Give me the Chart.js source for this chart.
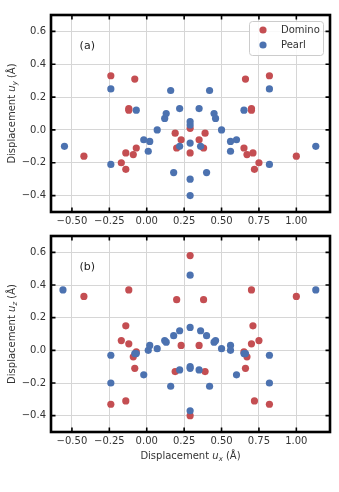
<!DOCTYPE html>
<html>
<head>
<meta charset="utf-8">
<script src="https://cdn.jsdelivr.net/npm/chart.js@4"></script>
<style>
  html, body { margin: 0; padding: 0; background: #fff; }
  #wrap { position: relative; width: 339px; height: 492px; }
  .panel { position: absolute; left: 0; width: 339px; }
</style>
</head>
<body>
<div id="wrap">
  <div class="panel" style="top:0;height:240px"><canvas id="chartA"></canvas></div>
  <div class="panel" style="top:225px;height:267px"><canvas id="chartB"></canvas></div>
</div>
<script>
// panel (a): u_x vs u_y
const dominoAX = [-0.42,-0.24,-0.08,-0.12,-0.12,-0.17,-0.14,-0.14,-0.09,-0.07,0.19,0.23,0.20,0.29,0.29,0.35,0.39,0.38,0.65,0.67,0.71,0.75,0.72,0.66,0.70,0.70,0.82,1.00];
const dominoAY = [-0.16,0.33,0.31,0.13,0.12,-0.20,-0.14,-0.24,-0.15,-0.11,-0.02,-0.06,-0.11,0.01,-0.14,-0.06,-0.02,-0.11,-0.11,-0.15,-0.14,-0.20,-0.24,0.31,0.13,0.12,0.33,-0.16];
const pearlAX = [-0.55,-0.24,-0.24,-0.07,-0.02,0.02,0.01,0.07,0.12,0.13,0.16,0.18,0.22,0.22,0.29,0.29,0.29,0.29,0.29,0.35,0.36,0.40,0.42,0.45,0.46,0.50,0.56,0.56,0.60,0.65,0.82,0.82,1.13];
const pearlAY = [-0.10,0.25,-0.21,0.12,-0.06,-0.07,-0.13,0.00,0.07,0.10,0.24,-0.26,0.13,-0.10,0.05,0.03,-0.08,-0.30,-0.40,0.13,-0.10,-0.26,0.24,0.10,0.07,0.00,-0.07,-0.13,-0.06,0.12,0.25,-0.21,-0.10];

// panel (b): u_x vs u_z
const dominoBX = [-0.42,-0.12,-0.24,-0.14,-0.14,-0.17,-0.12,-0.07,-0.09,-0.08,0.20,0.23,0.19,0.29,0.29,0.35,0.38,0.39,0.65,0.67,0.66,0.70,0.70,0.71,0.75,0.72,0.82,1.00];
const dominoBZ = [0.33,0.37,-0.33,-0.31,0.15,0.06,0.04,-0.01,-0.04,-0.11,0.31,0.03,-0.13,0.58,-0.40,0.03,0.31,-0.13,-0.01,-0.04,-0.11,0.04,0.37,0.15,0.06,-0.31,-0.33,0.33];
const pearlBX = [-0.56,-0.24,-0.24,-0.08,-0.07,-0.02,0.01,0.02,0.07,0.12,0.13,0.16,0.18,0.22,0.22,0.29,0.29,0.29,0.29,0.29,0.36,0.35,0.40,0.42,0.45,0.46,0.50,0.56,0.56,0.60,0.65,0.66,0.82,0.82,1.13];
const pearlBZ = [0.37,-0.03,-0.20,-0.02,-0.02,-0.15,0.00,0.03,0.01,0.06,0.05,-0.22,0.09,0.12,-0.12,0.46,0.14,-0.10,-0.11,-0.37,0.12,-0.12,0.09,-0.22,0.05,0.06,0.01,0.03,0.00,-0.15,-0.02,-0.02,-0.03,-0.20,0.37];

const xTicks = [-0.5, -0.25, 0, 0.25, 0.5, 0.75, 1.0];
const yTicks = [-0.4, -0.2, 0, 0.2, 0.4, 0.6];

const RED = '#c44e52', BLUE = '#4c72b0';
const FONT = 'DejaVu Sans';
const TXT = '#333';

function pts(xs, ys) { return xs.map((x, i) => ({x: x, y: ys[i]})); }
function fmt(v, d) { return v.toFixed(d).replace('-', '\u2212'); }

function drawRich(ctx, parts, x, y, rotate) {
  let w = 0;
  parts.forEach(p => { ctx.font = p.font; p.w = ctx.measureText(p.t).width; w += p.w; });
  ctx.save();
  ctx.translate(x, y);
  if (rotate) ctx.rotate(-Math.PI / 2);
  ctx.textBaseline = 'middle';
  ctx.textAlign = 'left';
  ctx.fillStyle = TXT;
  let cx = -w / 2;
  parts.forEach(p => { ctx.font = p.font; ctx.fillText(p.t, cx, p.dy || 0); cx += p.w; });
  ctx.restore();
}

function axisLabel(sub) {
  return [
    {t: 'Displacement ', font: '10px ' + FONT},
    {t: 'u', font: 'italic 10px ' + FONT},
    {t: sub, font: 'italic 7px ' + FONT, dy: 3},
    {t: ' (\u00c5)', font: '10px ' + FONT}
  ];
}

const decor = {
  id: 'decor',
  afterDraw(chart, args, opts) {
    const ctx = chart.ctx, a = chart.chartArea;
    const xs = chart.scales.x, ys = chart.scales.y;
    ctx.save();
    // inward ticks on all four sides
    ctx.strokeStyle = '#000';
    ctx.lineWidth = 1.6;
    ctx.beginPath();
    xs.ticks.forEach(t => {
      const p = xs.getPixelForValue(t.value);
      ctx.moveTo(p, a.bottom); ctx.lineTo(p, a.bottom - 4.5);
      ctx.moveTo(p, a.top); ctx.lineTo(p, a.top + 4.5);
    });
    ys.ticks.forEach(t => {
      const p = ys.getPixelForValue(t.value);
      ctx.moveTo(a.left, p); ctx.lineTo(a.left + 4.5, p);
      ctx.moveTo(a.right, p); ctx.lineTo(a.right - 4.5, p);
    });
    ctx.stroke();
    ctx.lineWidth = 2.6;
    ctx.strokeRect(a.left, a.top, a.right - a.left, a.bottom - a.top);

    // panel label
    ctx.fillStyle = '#222';
    ctx.font = '11px ' + FONT;
    ctx.textAlign = 'center';
    ctx.textBaseline = 'middle';
    ctx.fillText(opts.panel, a.left + 0.13 * (a.right - a.left), a.top + 0.157 * (a.bottom - a.top));

    // axis titles
    drawRich(ctx, axisLabel(opts.ySub), 12.5, (a.top + a.bottom) / 2, true);
    if (opts.xTitle) {
      drawRich(ctx, axisLabel('x'), (a.left + a.right) / 2, a.bottom + 24, false);
    }

    // legend inside the axes, top right
    if (opts.legend) {
      const bx = 249, by = a.top + 6, bw = 74, bh = 34;
      ctx.fillStyle = 'rgba(255,255,255,0.85)';
      ctx.strokeStyle = '#cccccc';
      ctx.lineWidth = 1;
      ctx.beginPath();
      ctx.roundRect(bx + 0.5, by + 0.5, bw, bh, 3);
      ctx.fill();
      ctx.stroke();
      const items = chart.data.datasets.slice().sort((p, q) => q.order - p.order);
      items.forEach((d, i) => {
        const cy = by + 9 + i * 15;
        ctx.fillStyle = d.backgroundColor;
        ctx.beginPath();
        ctx.arc(bx + 14, cy, 3.6, 0, Math.PI * 2);
        ctx.fill();
        ctx.fillStyle = TXT;
        ctx.font = '10px ' + FONT;
        ctx.textAlign = 'left';
        ctx.fillText(d.label, bx + 32, cy);
      });
    }
    ctx.restore();
  }
};

function makeChart(id, dom, pearl, pad, decorOpts) {
  return new Chart(document.getElementById(id), {
    type: 'scatter',
    data: {
      datasets: [
        {label: 'Domino', data: dom, backgroundColor: RED, borderColor: RED, pointRadius: 3.6, borderWidth: 0, order: 1},
        {label: 'Pearl', data: pearl, backgroundColor: BLUE, borderColor: BLUE, pointRadius: 3.6, borderWidth: 0, order: 0}
      ]
    },
    options: {
      responsive: true,
      maintainAspectRatio: false,
      animation: false,
      layout: {padding: pad},
      plugins: {
        legend: {display: false},
        tooltip: {enabled: false},
        decor: decorOpts
      },
      scales: {
        x: {
          type: 'linear', min: -0.64, max: 1.225,
          afterBuildTicks: s => { s.ticks = xTicks.map(v => ({value: v})); },
          afterFit: s => { s.height = 18; },
          grid: {color: '#d6d6d6', lineWidth: 1, drawTicks: false},
          border: {display: false},
          ticks: {padding: 3, color: TXT, font: {family: FONT, size: 10}, callback: v => fmt(v, 2), maxRotation: 0}
        },
        y: {
          type: 'linear', min: -0.5, max: 0.7,
          afterBuildTicks: s => { s.ticks = yTicks.map(v => ({value: v})); },
          afterFit: s => { s.width = 51; },
          grid: {color: '#d6d6d6', lineWidth: 1, drawTicks: false},
          border: {display: false},
          ticks: {padding: 5, color: TXT, font: {family: FONT, size: 10}, callback: v => fmt(v, 1)}
        }
      }
    },
    plugins: [decor]
  });
}

makeChart('chartA', pts(dominoAX, dominoAY), pts(pearlAX, pearlAY),
  {top: 15, right: 9, bottom: 10, left: 0},
  {panel: '(a)', ySub: 'y', xTitle: false, legend: true});
makeChart('chartB', pts(dominoBX, dominoBZ), pts(pearlBX, pearlBZ),
  {top: 11, right: 9, bottom: 42, left: 0},
  {panel: '(b)', ySub: 'z', xTitle: true, legend: false});
</script>
</body>
</html>
